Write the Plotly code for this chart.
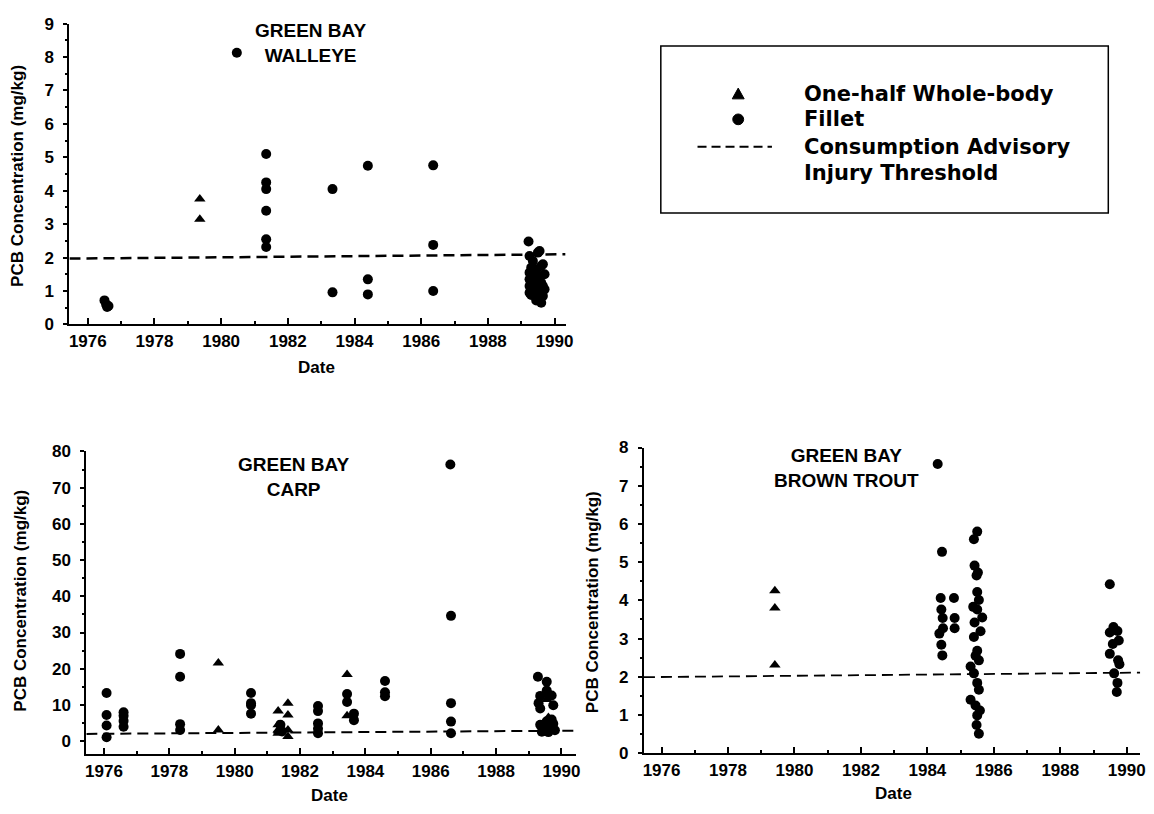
import plotly.graph_objects as go

W, H = 1154, 814
def px(x): return x / W
def py(y): return 1 - y / H

FONT = "Liberation Sans, Arial, sans-serif"
LEGFONT = "DejaVu Sans, Liberation Sans, sans-serif"

# ---------------- Data: Green Bay Walleye ----------------
walleye_fillet_year = [1976.5, 1976.55, 1976.58, 1976.62,
                       1980.47,
                       1981.35, 1981.35, 1981.35, 1981.35, 1981.35, 1981.35,
                       1983.34, 1983.34,
                       1984.4, 1984.4, 1984.4,
                       1986.36, 1986.36, 1986.36,
                       1989.22, 1989.25, 1989.35, 1989.55, 1989.5, 1989.3, 1989.45, 1989.6,
                       1989.65, 1989.25, 1989.4, 1989.55, 1989.7, 1989.25, 1989.45, 1989.6,
                       1989.25, 1989.4, 1989.65, 1989.7, 1989.25, 1989.3, 1989.55, 1989.45,
                       1989.6, 1989.65]
walleye_fillet_pcb = [0.72, 0.6, 0.52, 0.55,
                      8.13,
                      5.1, 4.25, 4.05, 3.4, 2.55, 2.32,
                      4.05, 0.96,
                      4.75, 1.35, 0.9,
                      4.76, 2.38, 1.0,
                      2.48, 2.05, 1.9, 2.2, 2.15, 1.7, 1.65, 1.75,
                      1.8, 1.55, 1.5, 1.45, 1.5, 1.35, 1.3, 1.25,
                      1.15, 1.1, 1.15, 1.05, 0.95, 0.88, 0.95, 0.72,
                      0.65, 0.85]
walleye_whole_year = [1979.36, 1979.36]
walleye_whole_pcb = [3.75, 3.15]
walleye_line_year = [1975.45, 1990.33]
walleye_line_pcb = [1.97, 2.1]

# ---------------- Data: Green Bay Carp ----------------
carp_fillet_year = [1976.08, 1976.08, 1976.08, 1976.08,
                    1976.6, 1976.6, 1976.6, 1976.6,
                    1978.33, 1978.33, 1978.33, 1978.33,
                    1980.5, 1980.5, 1980.5, 1980.5,
                    1981.4, 1981.45,
                    1982.55, 1982.55, 1982.55, 1982.55, 1982.55,
                    1983.44, 1983.44, 1983.65, 1983.65,
                    1984.6, 1984.6, 1984.6,
                    1986.6, 1986.62, 1986.62, 1986.62, 1986.62,
                    1989.28, 1989.55, 1989.35, 1989.3, 1989.35, 1989.6, 1989.7, 1989.75,
                    1989.55, 1989.35, 1989.4, 1989.55, 1989.65, 1989.75, 1989.8, 1989.6,
                    1989.7, 1989.5]
carp_fillet_pcb = [13.3, 7.2, 4.3, 1.1,
                   8.0, 7.0, 5.6, 4.0,
                   24.1, 17.8, 4.7, 3.1,
                   13.3, 10.5, 9.9, 7.6,
                   4.5, 2.7,
                   9.7, 8.3, 4.9, 3.4, 2.2,
                   13.0, 10.8, 7.6, 5.8,
                   16.6, 13.5, 12.4,
                   76.4, 34.6, 10.5, 5.4, 2.2,
                   17.8, 16.4, 12.5, 10.5, 9.0, 12.8, 12.6, 9.9,
                   14.0, 4.5, 2.6, 5.5, 4.2, 4.8, 3.0, 2.5,
                   6.0, 3.5]
carp_whole_year = [1979.5, 1979.5,
                   1981.33, 1981.33, 1981.33, 1981.33,
                   1981.63, 1981.63, 1981.63, 1981.63,
                   1983.44, 1983.44,
                   1989.6, 1989.55, 1989.6, 1989.7, 1989.55, 1989.75]
carp_whole_pcb = [21.6, 3.1,
                  8.3, 4.5, 3.1, 2.2,
                  10.5, 7.2, 3.1, 1.3,
                  18.4, 7.0,
                  13.5, 11.5, 6.5, 5.0, 4.0, 3.8]
carp_line_year = [1975.46, 1990.46]
carp_line_pcb = [2.0, 2.9]

# ---------------- Data: Green Bay Brown Trout ----------------
trout_fillet_year = [1984.31,
                     1984.44, 1984.4, 1984.42, 1984.46, 1984.47, 1984.36, 1984.42, 1984.45,
                     1984.8, 1984.82, 1984.82,
                     1985.5, 1985.4, 1985.42, 1985.52, 1985.48, 1985.5, 1985.55, 1985.38,
                     1985.5, 1985.65, 1985.42, 1985.6, 1985.4, 1985.5, 1985.45, 1985.55,
                     1985.3, 1985.4, 1985.5, 1985.55, 1985.3, 1985.45, 1985.58, 1985.5,
                     1985.48, 1985.55,
                     1989.49, 1989.6, 1989.49, 1989.72, 1989.76, 1989.58, 1989.49, 1989.74,
                     1989.78, 1989.62, 1989.72, 1989.7]
trout_fillet_pcb = [7.57,
                    5.27, 4.06, 3.76, 3.54, 3.27, 3.13, 2.84, 2.56,
                    4.06, 3.54, 3.27,
                    5.8, 5.6, 4.91, 4.73, 4.65, 4.22, 4.01, 3.83,
                    3.76, 3.55, 3.42, 3.19, 3.04, 2.68, 2.55, 2.43,
                    2.27, 2.09, 1.84, 1.66, 1.40, 1.25, 1.12, 0.99,
                    0.74, 0.51,
                    4.42, 3.3, 3.16, 3.2, 2.95, 2.86, 2.6, 2.43,
                    2.33, 2.09, 1.84, 1.6]
trout_whole_year = [1979.41, 1979.41, 1979.41]
trout_whole_pcb = [4.25, 3.8, 2.31]
trout_line_year = [1975.47, 1990.46]
trout_line_pcb = [1.99, 2.11]

years_ticks = [1976, 1978, 1980, 1982, 1984, 1986, 1988, 1990]

fig = go.Figure()

def add_panel(xa, ya, fy, fp, wy, wp, ly, lp, lw):
    fig.add_trace(go.Scatter(x=ly, y=lp, mode="lines", xaxis=xa, yaxis=ya,
                             line=dict(color="black", width=lw, dash="11px,6px"),
                             showlegend=False, hoverinfo="skip"))
    fig.add_trace(go.Scatter(x=fy, y=fp, mode="markers", xaxis=xa, yaxis=ya,
                             marker=dict(symbol="circle", size=10, color="black"),
                             name="Fillet", showlegend=False))
    fig.add_trace(go.Scatter(x=wy, y=wp, mode="markers", xaxis=xa, yaxis=ya,
                             marker=dict(symbol="triangle-up", size=10, color="black"),
                             name="One-half Whole-body", showlegend=False))

add_panel("x", "y", walleye_fillet_year, walleye_fillet_pcb, walleye_whole_year, walleye_whole_pcb,
          walleye_line_year, walleye_line_pcb, 2.5)
add_panel("x2", "y2", carp_fillet_year, carp_fillet_pcb, carp_whole_year, carp_whole_pcb,
          carp_line_year, carp_line_pcb, 2)
add_panel("x3", "y3", trout_fillet_year, trout_fillet_pcb, trout_whole_year, trout_whole_pcb,
          trout_line_year, trout_line_pcb, 1.8)

tickfont = dict(family=FONT, size=17, color="black", weight="bold")

def xax(dom, rng, anchor):
    return dict(domain=dom, range=rng, anchor=anchor, showgrid=False, zeroline=False,
                showline=True, linewidth=2, linecolor="black",
                tickmode="array", tickvals=years_ticks, ticktext=[str(v) for v in years_ticks],
                ticks="inside", ticklen=6, tickwidth=1.5, tickcolor="black",
                minor=dict(dtick=1, tick0=1975, ticks="inside", ticklen=3, tickcolor="black"),
                tickfont=tickfont, ticklabelstandoff=0)

def yax(dom, rng, anchor, dt, minor):
    return dict(domain=dom, range=rng, anchor=anchor, showgrid=False, zeroline=False,
                showline=True, linewidth=2, linecolor="black",
                tick0=0, dtick=dt, ticks="outside", ticklen=4, tickwidth=1.5, tickcolor="black",
                minor=dict(dtick=minor, ticks="outside", ticklen=2, tickcolor="black"),
                tickfont=tickfont, ticklabelstandoff=6)

fig.update_layout(
    width=W, height=H, margin=dict(l=0, r=0, t=0, b=0),
    paper_bgcolor="white", plot_bgcolor="white", showlegend=False,
    xaxis=xax([px(69), px(569)], [1975.45, 1990.33], "y"),
    yaxis=yax([py(323), py(15)], [0, 9], "x", 1, 0.5),
    xaxis2=xax([px(86), px(580)], [1975.46, 1990.46], "y2"),
    yaxis2=yax([py(763), py(453)], [-3.6, 80], "x2", 10, 5),
    xaxis3=xax([px(648), px(1148)], [1975.47, 1990.4], "y3"),
    yaxis3=yax([py(762), py(449)], [0, 8], "x3", 1, 0.5),
)

ann = []
def text(x, y, s, size, angle=0, xanchor="center", family=FONT):
    ann.append(dict(x=px(x), y=py(y), xref="paper", yref="paper", text=s, showarrow=False,
                    textangle=angle, xanchor=xanchor, yanchor="middle",
                    font=dict(family=family, size=size, color="black", weight="bold")))

# panel titles
text(312, 35, "GREEN BAY<br>WALLEYE", 19)
text(295, 479, "GREEN BAY<br>CARP", 19)
text(852, 470, "GREEN BAY<br>BROWN TROUT", 19)
# axis titles
text(318, 367, "Date", 17)
text(331, 805, "Date", 17)
text(900, 803, "Date", 17)
text(16, 171, "PCB Concentration (mg/kg)", 17, angle=-90)
text(20, 606, "PCB Concentration (mg/kg)", 17, angle=-90)
text(596, 607, "PCB Concentration (mg/kg)", 17, angle=-90)
# legend texts
text(807, 87, "One-half Whole-body", 21, xanchor="left", family=LEGFONT)
text(807, 113, "Fillet", 21, xanchor="left", family=LEGFONT)
text(807, 141, "Consumption Advisory", 21, xanchor="left", family=LEGFONT)
text(807, 168, "Injury Threshold", 21, xanchor="left", family=LEGFONT)
fig.update_layout(annotations=ann)

shapes = []
# legend box
shapes.append(dict(type="rect", xref="paper", yref="paper", x0=px(665), x1=px(1116),
                   y0=py(209), y1=py(38), line=dict(color="black", width=1.5)))
# legend triangle glyph
tri = "M {:.5f},{:.5f} L {:.5f},{:.5f} L {:.5f},{:.5f} Z".format(
    px(737), py(92), px(749), py(92), px(743), py(81))
shapes.append(dict(type="path", xref="paper", yref="paper", path=tri,
                   fillcolor="black", line=dict(color="black", width=1)))
# legend circle glyph
shapes.append(dict(type="circle", xref="paper", yref="paper", x0=px(737.5), x1=px(748.5),
                   y0=py(118.5), y1=py(107.5), fillcolor="black", line=dict(color="black", width=1)))
# legend dashed line glyph
shapes.append(dict(type="line", xref="paper", yref="paper", x0=px(702), x1=px(777),
                   y0=py(141), y1=py(141), line=dict(color="black", width=2, dash="9px,5px")))
fig.update_layout(shapes=shapes)

fig.write_html("out.html", config={"displayModeBar": False},
               post_script="document.body.style.margin='0px';document.body.style.overflow='hidden';")
